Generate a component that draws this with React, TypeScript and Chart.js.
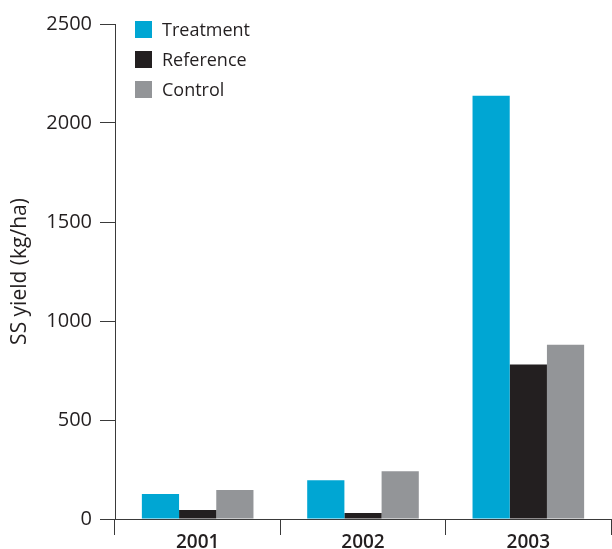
import React, { useEffect, useRef } from "react";
import { Chart, registerables } from "chart.js";

Chart.register(...registerables);

const categories = ["2001", "2002", "2003"];
const treatment = [126, 196, 2138];
const reference = [45, 30, 780];
const control = [146, 241, 880];
const yTicks = [0, 500, 1000, 1500, 2000, 2500];

const FONT = "'Open Sans', 'Noto Sans', sans-serif";
const INK = "#231F20";

const legendPlugin = {
  id: "customLegend",
  afterDraw(chart: any) {
    const ctx = chart.ctx;
    ctx.save();
    ctx.font = `18px ${FONT}`;
    ctx.textBaseline = "middle";
    ctx.textAlign = "left";
    chart.data.datasets.forEach((ds: any, i: number) => {
      const cy = 29.5 + i * 30;
      ctx.fillStyle = ds.backgroundColor;
      ctx.fillRect(135, cy - 8.5, 17, 17);
      ctx.fillStyle = INK;
      ctx.fillText(ds.label, 162, cy + 1);
    });
    ctx.restore();
  },
};

export default function App() {
  const ref = useRef<HTMLCanvasElement | null>(null);
  useEffect(() => {
    if (!ref.current) return;
    const chart = new Chart(ref.current, {
      type: "bar",
      data: {
        labels: categories,
        datasets: [
          { label: "Treatment", data: treatment, backgroundColor: "#00A6D3" },
          { label: "Reference", data: reference, backgroundColor: "#231F20" },
          { label: "Control", data: control, backgroundColor: "#939598" },
        ],
      },
      options: {
        animation: false,
        responsive: false,
        maintainAspectRatio: false,
        layout: { padding: { top: 24, right: 1, left: 0, bottom: 0 } },
        datasets: {
          bar: { categoryPercentage: 0.675, barPercentage: 1.0, borderWidth: 0 },
        },
        plugins: {
          legend: { display: false },
          tooltip: { enabled: false },
        },
        scales: {
          x: {
            offset: true,
            grid: {
              offset: true,
              drawOnChartArea: false,
              drawTicks: true,
              tickLength: 16,
              color: "#3a3a3a",
              lineWidth: 1,
            },
            border: { display: true, color: "#3a3a3a", width: 1 },
            ticks: {
              color: INK,
              font: { family: FONT, size: 19, weight: "600" },
              padding: -4,
              maxRotation: 0,
            },
            afterFit(scale: any) {
              scale.height = 30;
            },
          },
          y: {
            min: 0,
            max: 2500,
            afterBuildTicks(scale: any) {
              scale.ticks = yTicks.map((v) => ({ value: v }));
            },
            grid: {
              drawOnChartArea: false,
              drawTicks: true,
              tickLength: 15,
              color: "#3a3a3a",
              lineWidth: 1,
            },
            border: { display: true, color: "#3a3a3a", width: 1 },
            ticks: {
              color: INK,
              font: { family: FONT, size: 20 },
              padding: 8,
              callback: (v: any) => String(v),
            },
            title: {
              display: true,
              text: "SS yield (kg/ha)",
              color: INK,
              font: { family: FONT, size: 21 },
              padding: { top: 7, bottom: 0 },
            },
            afterFit(scale: any) {
              scale.width = 115;
            },
          },
        },
      },
      plugins: [legendPlugin],
    } as any);
    return () => chart.destroy();
  }, []);
  return (
    <div style={{ position: "fixed", left: 0, top: 0, width: 612, height: 549, background: "#fff" }}>
      <canvas ref={ref} width={612} height={549} style={{ display: "block" }} />
    </div>
  );
}
